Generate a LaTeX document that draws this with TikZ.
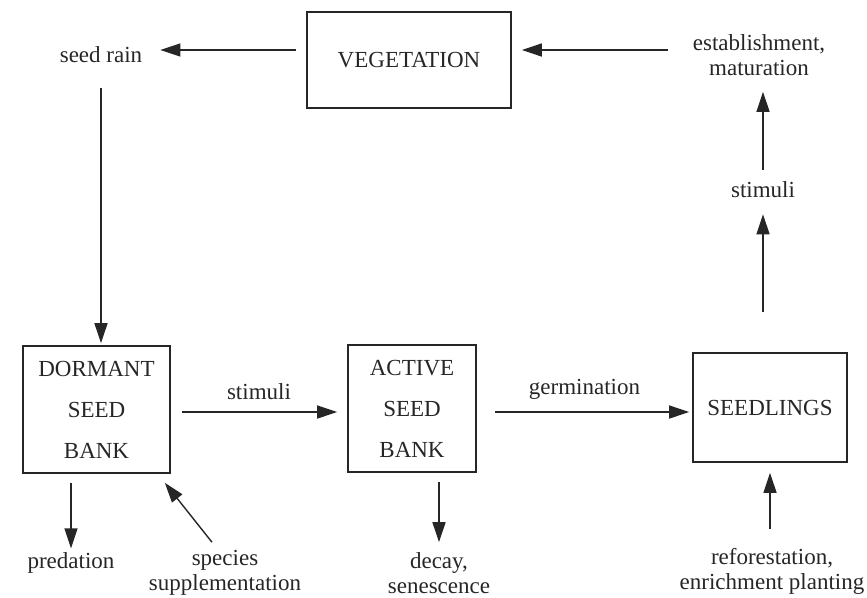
\documentclass[tikz,border=0pt]{standalone}
\usepackage{fontspec}
\setmainfont{Liberation Serif}
\usetikzlibrary{arrows.meta, positioning, calc}

\begin{document}
\begin{tikzpicture}[x=1pt, y=-1pt,
    % Define the styles for boxes, labels and arrows
    every node/.style={font=\fontsize{23}{25}\selectfont, text=black!85},
    pool/.style={draw=black!85, line width=1.6pt, align=center, inner sep=0pt,
        font=\fontsize{23}{41}\selectfont},
    lbl/.style={align=center, inner sep=2pt},
    flow/.style={draw=black!85, line width=1.4pt, -{Triangle[length=20pt, width=13pt]}}
]
\useasboundingbox (0,0) rectangle (867,597);

% Define the boxes
\node[pool, minimum width=204pt, minimum height=96pt] (veg) at (409,60) {VEGETATION};
\node[pool, minimum width=147pt, minimum height=127pt] (dormant) at (96.5,409.5) {DORMANT\\SEED\\BANK};
\node[pool, minimum width=128pt, minimum height=127pt] (active) at (412,408.5) {ACTIVE\\SEED\\BANK};
\node[pool, minimum width=154pt, minimum height=109pt] (seedl) at (770,407.5) {SEEDLINGS};

% Add the free labels
\node[lbl] (seedrain) at (101,55) {seed rain};
\node[lbl] (estab) at (759,55) {establishment,\\maturation};
\node[lbl] (stimR) at (763,190) {stimuli};
\node[lbl] (pred) at (71,563) {predation};
\node[lbl] (species) at (225,573) {species\\supplementation};
\node[lbl] (decay) at (439,573) {decay,\\senescence};
\node[lbl] (refor) at (772,571) {reforestation,\\enrichment planting};

% Draw the top arrows
\draw[flow, shorten <=10pt, shorten >=16pt] ([yshift=10pt]veg.west) -- ([yshift=10pt]veg.west -| seedrain.east);
\draw[flow, shorten <=23pt, shorten >=10pt] ([yshift=5pt]estab.west) -- ([yshift=5pt]estab.west -| veg.east);

% Draw the right column arrows
\draw[flow, shorten <=10pt, shorten >=14pt] (stimR.north) -- (stimR.north |- estab.south);
\draw[flow, shorten <=40pt, shorten >=14pt] (seedl.north -| stimR) -- (stimR.south);
\draw[flow, shorten <=17pt, shorten >=10pt] (refor.north -| seedl) -- (seedl.south);

% Draw the left column arrow
\draw[flow, shorten <=23pt, shorten >=2pt] (seedrain.south) -- (seedrain.south |- dormant.north);

% Draw the main chain with labels
\draw[flow, shorten <=11pt, shorten >=10pt] ([yshift=-2.5pt]dormant.east) -- ([yshift=-2.5pt]dormant.east -| active.west)
    node[lbl, midway, above=10pt] (stimL) {stimuli};
\draw[flow, shorten <=18pt, shorten >=3pt] ([yshift=-3.5pt]active.east) -- ([yshift=-3.5pt]active.east -| seedl.west)
    node[lbl, midway, above=10pt] (germ) {germination};

% Draw the losses and inputs below
\draw[flow, shorten <=9pt, shorten >=2pt] (dormant.south -| pred.north) -- (pred.north);
\draw[flow] ([xshift=-13pt, yshift=6pt]species.north) -- ([xshift=-6pt, yshift=-9pt]dormant.south east);
\draw[flow, shorten <=9pt, shorten >=8pt] (active.south -| decay.north) -- (decay.north);

\end{tikzpicture}
\end{document}
